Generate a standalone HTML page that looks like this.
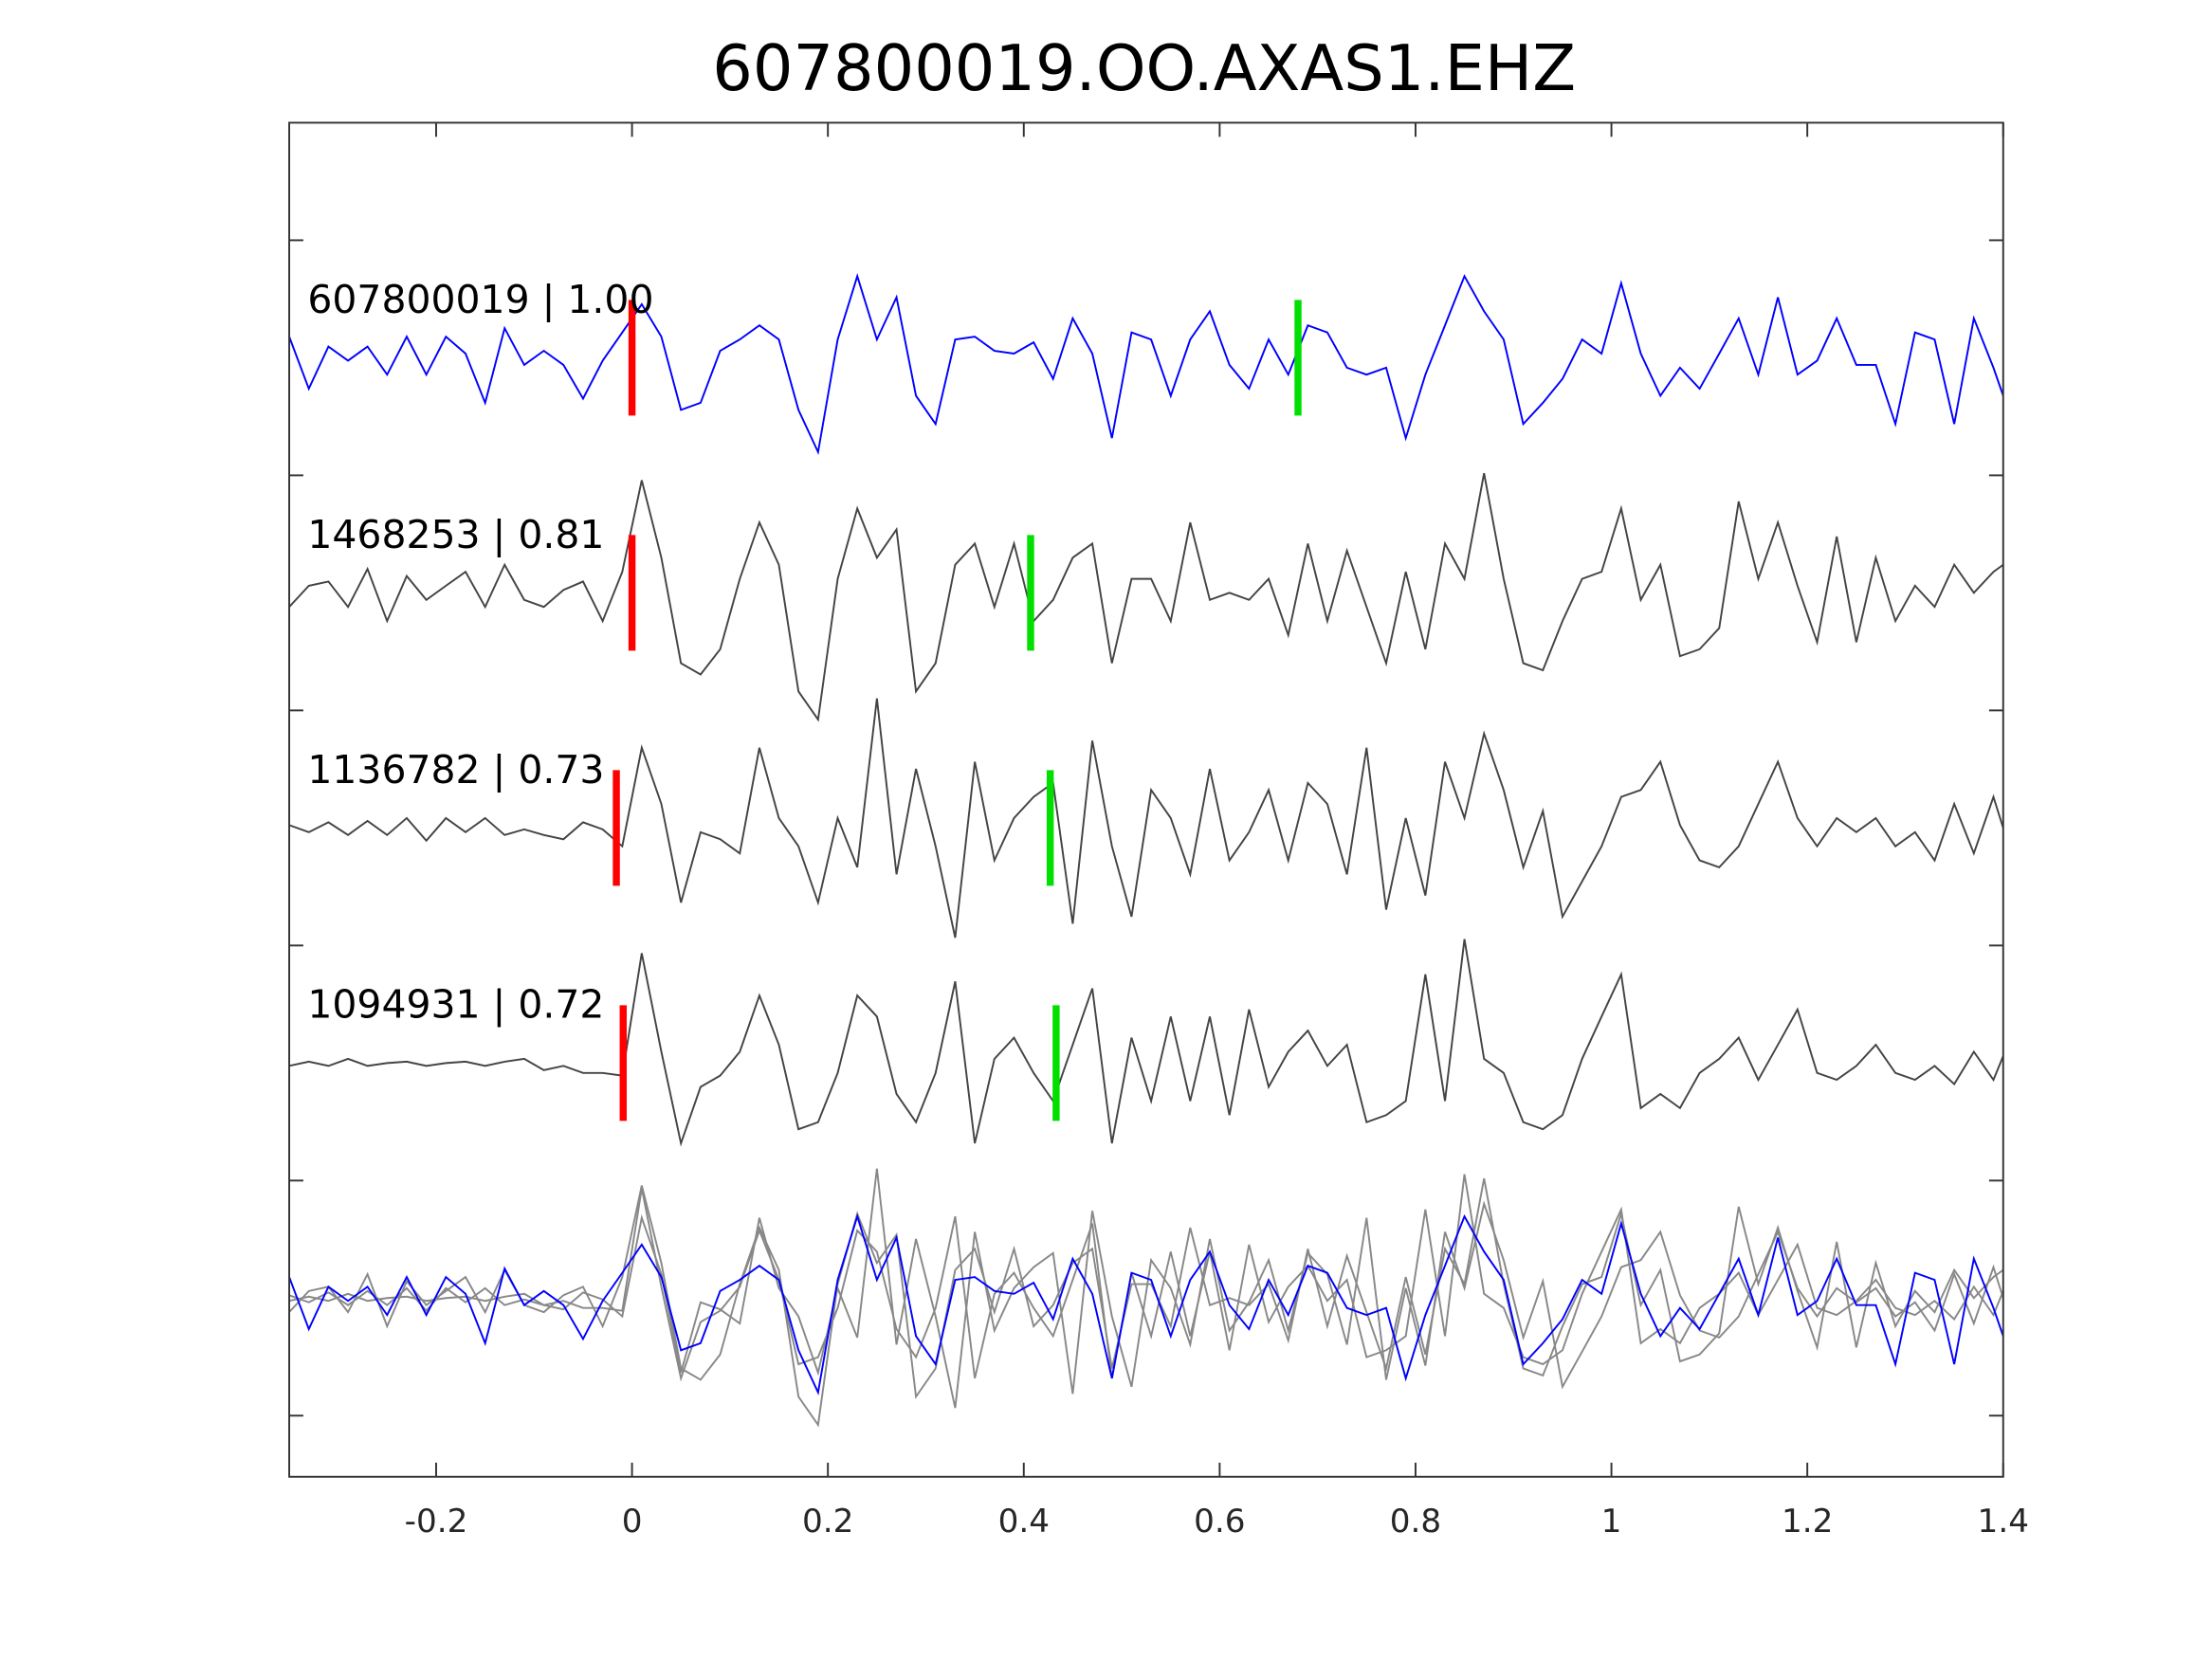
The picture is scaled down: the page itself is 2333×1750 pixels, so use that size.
<!DOCTYPE html>
<html><head><meta charset="utf-8">
<style>
html,body{margin:0;padding:0;background:#fff;}
svg{display:block;}
text{font-family:"DejaVu Sans","Liberation Sans",sans-serif;}
</style></head>
<body>
<svg id="chart" width="2333" height="1750" viewBox="0 0 1568 1176.2" xmlns="http://www.w3.org/2000/svg">
  <rect x="0" y="0" width="1568" height="1176.2" fill="#fff"/>
  <text x="811" y="64" font-size="45" text-anchor="middle" fill="#000">607800019.OO.AXAS1.EHZ</text>
  <g id="plot"></g>
  <rect x="205" y="87" width="1215" height="960" fill="none" stroke="#333" stroke-width="1.3"/>
</svg>
<script>
// ---- data ----
const xTicks = [-0.2, 0, 0.2, 0.4, 0.6, 0.8, 1, 1.2, 1.4];
const xTickLabels = ["-0.2", "0", "0.2", "0.4", "0.6", "0.8", "1", "1.2", "1.4"];
const yTicks = [0.5, 1.5, 2.5, 3.5, 4.5, 5.5];
const traceLabels = ["607800019 | 1.00", "1468253 | 0.81", "1136782 | 0.73", "1094931 | 0.72"];
const traceBaselines = [5, 4, 3, 2];
const stackBaseline = 1;
const pPicks = [0, 0, -0.016, -0.009];
const sPicks = [0.68, 0.407, 0.427, 0.433];
const trace1 = [15,-22,8,-2,8,-12,15,-12,15,3,-32,21,-5,5,-5,-29,-2,18,38,15,-37,-32,5,13,23,13,-37,-67,13,58,13,43,-27,-47,13,15,5,3,11,-15,28,3,-57,18,13,-27,13,33,-5,-22,13,-12,23,18,-7,-12,-7,-57,-12,23,58,33,13,-47,-32,-15,13,3,53,3,-27,-7,-22,3,28,-12,43,-12,-2,28,-5,-5,-47,18,13,-47,28,-7,-27];
const trace2 = [-10,5,8,-10,17,-20,12,-5,5,15,-10,20,-5,-10,2,8,-20,15,80,25,-50,-58,-40,10,50,20,-70,-90,10,60,25,45,-70,-50,20,35,-10,35,-20,-5,25,35,-50,10,10,-20,50,-5,0,-5,10,-30,35,-20,30,-10,-50,15,-40,35,10,85,10,-50,-55,-20,10,15,60,-5,20,-45,-40,-25,65,10,50,5,-35,40,-35,25,-20,5,-10,20,0,15,20];
const trace3 = [2,-3,4,-5,5,-5,7,-9,7,-3,7,-5,-1,-5,-8,4,-1,-13,57,17,-53,-3,-8,-18,57,7,-13,-53,7,-28,92,-33,42,-13,-78,47,-23,7,22,32,-68,62,-13,-63,27,7,-33,42,-23,-3,27,-23,32,17,-33,57,-58,7,-48,47,7,67,27,-28,12,-63,-38,-13,22,27,47,2,-23,-28,-13,17,47,7,-13,7,-3,7,-13,-3,-23,17,-18,22,0];
const trace4 = [-2,1,-2,3,-2,0,1,-2,0,1,-2,1,3,-5,-2,-7,-7,-9,78,8,-57,-17,-9,8,48,13,-47,-42,-7,48,33,-22,-42,-7,58,-57,3,18,-7,-27,13,53,-57,18,-27,33,-27,33,-37,38,-17,8,23,-2,13,-42,-37,-27,63,-27,88,3,-7,-42,-47,-37,3,33,63,-32,-22,-32,-7,3,18,-12,13,38,-7,-12,-2,13,-7,-12,-2,-15,8,-12,5];
const traces = [trace1, trace2, trace3, trace4];

// ---- axes ----
const X0 = 205, X1 = 1420, Y0 = 87, Y1 = 1047;
const xMin = -0.35, xMax = 1.4;
const yMin = 0.24, yMax = 6.0;
function xScale(t){ return X0 + (t - xMin) / (xMax - xMin) * (X1 - X0); }
function yScale(v){ return Y1 - (v - yMin) / (yMax - yMin) * (Y1 - Y0); }
const unitPx = (Y1 - Y0) / (yMax - yMin);
function ampPx(a){ return a / 167 * unitPx; }
function timeAt(i){ return Math.min(xMin + i * 0.02, xMax); }

const NS = "http://www.w3.org/2000/svg";
const plot = document.getElementById("plot");
function mk(tag, attrs, parent){
  const el = document.createElementNS(NS, tag);
  for (const k in attrs) el.setAttribute(k, attrs[k]);
  (parent || plot).appendChild(el);
  return el;
}

xTicks.forEach((t, i) => {
  const x = xScale(t);
  const a = mk("line", {x1:x, x2:x, y1:Y1, y2:Y1-10, stroke:"#333", "stroke-width":1.3});
  
  
  const b = mk("line", {x1:x, x2:x, y1:Y0, y2:Y0+10, stroke:"#333", "stroke-width":1.3});
  
  
  const lb = mk("text", {x:x, y:1086, "font-size":23, "text-anchor":"middle", fill:"#262626"});
  lb.textContent = xTickLabels[i];
  
  
});
yTicks.forEach(v => {
  const y = yScale(v);
  const a = mk("line", {x1:X0, x2:X0+10, y1:y, y2:y, stroke:"#333", "stroke-width":1.3});
  
  
  const b = mk("line", {x1:X1, x2:X1-10, y1:y, y2:y, stroke:"#333", "stroke-width":1.3});
  
  
});

function tracePath(vals, base){
  return vals.map((a, i) => (i ? "L" : "M") + xScale(timeAt(i)).toFixed(1) + "," + (yScale(base) - ampPx(a)).toFixed(1)).join(" ");
}

[3, 2, 1, 0].forEach(k => {
  const p = mk("path", {d: tracePath(traces[k], stackBaseline), fill:"none", stroke: k === 0 ? "#0000ff" : "#888", "stroke-width":1.3});
  
  
});

traces.forEach((vals, k) => {
  const base = traceBaselines[k];
  const p = mk("path", {d: tracePath(vals, base), fill:"none", stroke: k === 0 ? "#0000ff" : "#444", "stroke-width":1.3});
  
  
  const yb = yScale(base);
  const pr = mk("line", {x1:xScale(pPicks[k]), x2:xScale(pPicks[k]), y1:yb-41, y2:yb+41, stroke:"#ff0000", "stroke-width":5});
  
  
  const sr = mk("line", {x1:xScale(sPicks[k]), x2:xScale(sPicks[k]), y1:yb-41, y2:yb+41, stroke:"#00e000", "stroke-width":5});
  
  
  const lb = mk("text", {x:218, y:yb-32, "font-size":27.5, fill:"#000"});
  lb.textContent = traceLabels[k];
  
  
});
</script>
</body></html>
